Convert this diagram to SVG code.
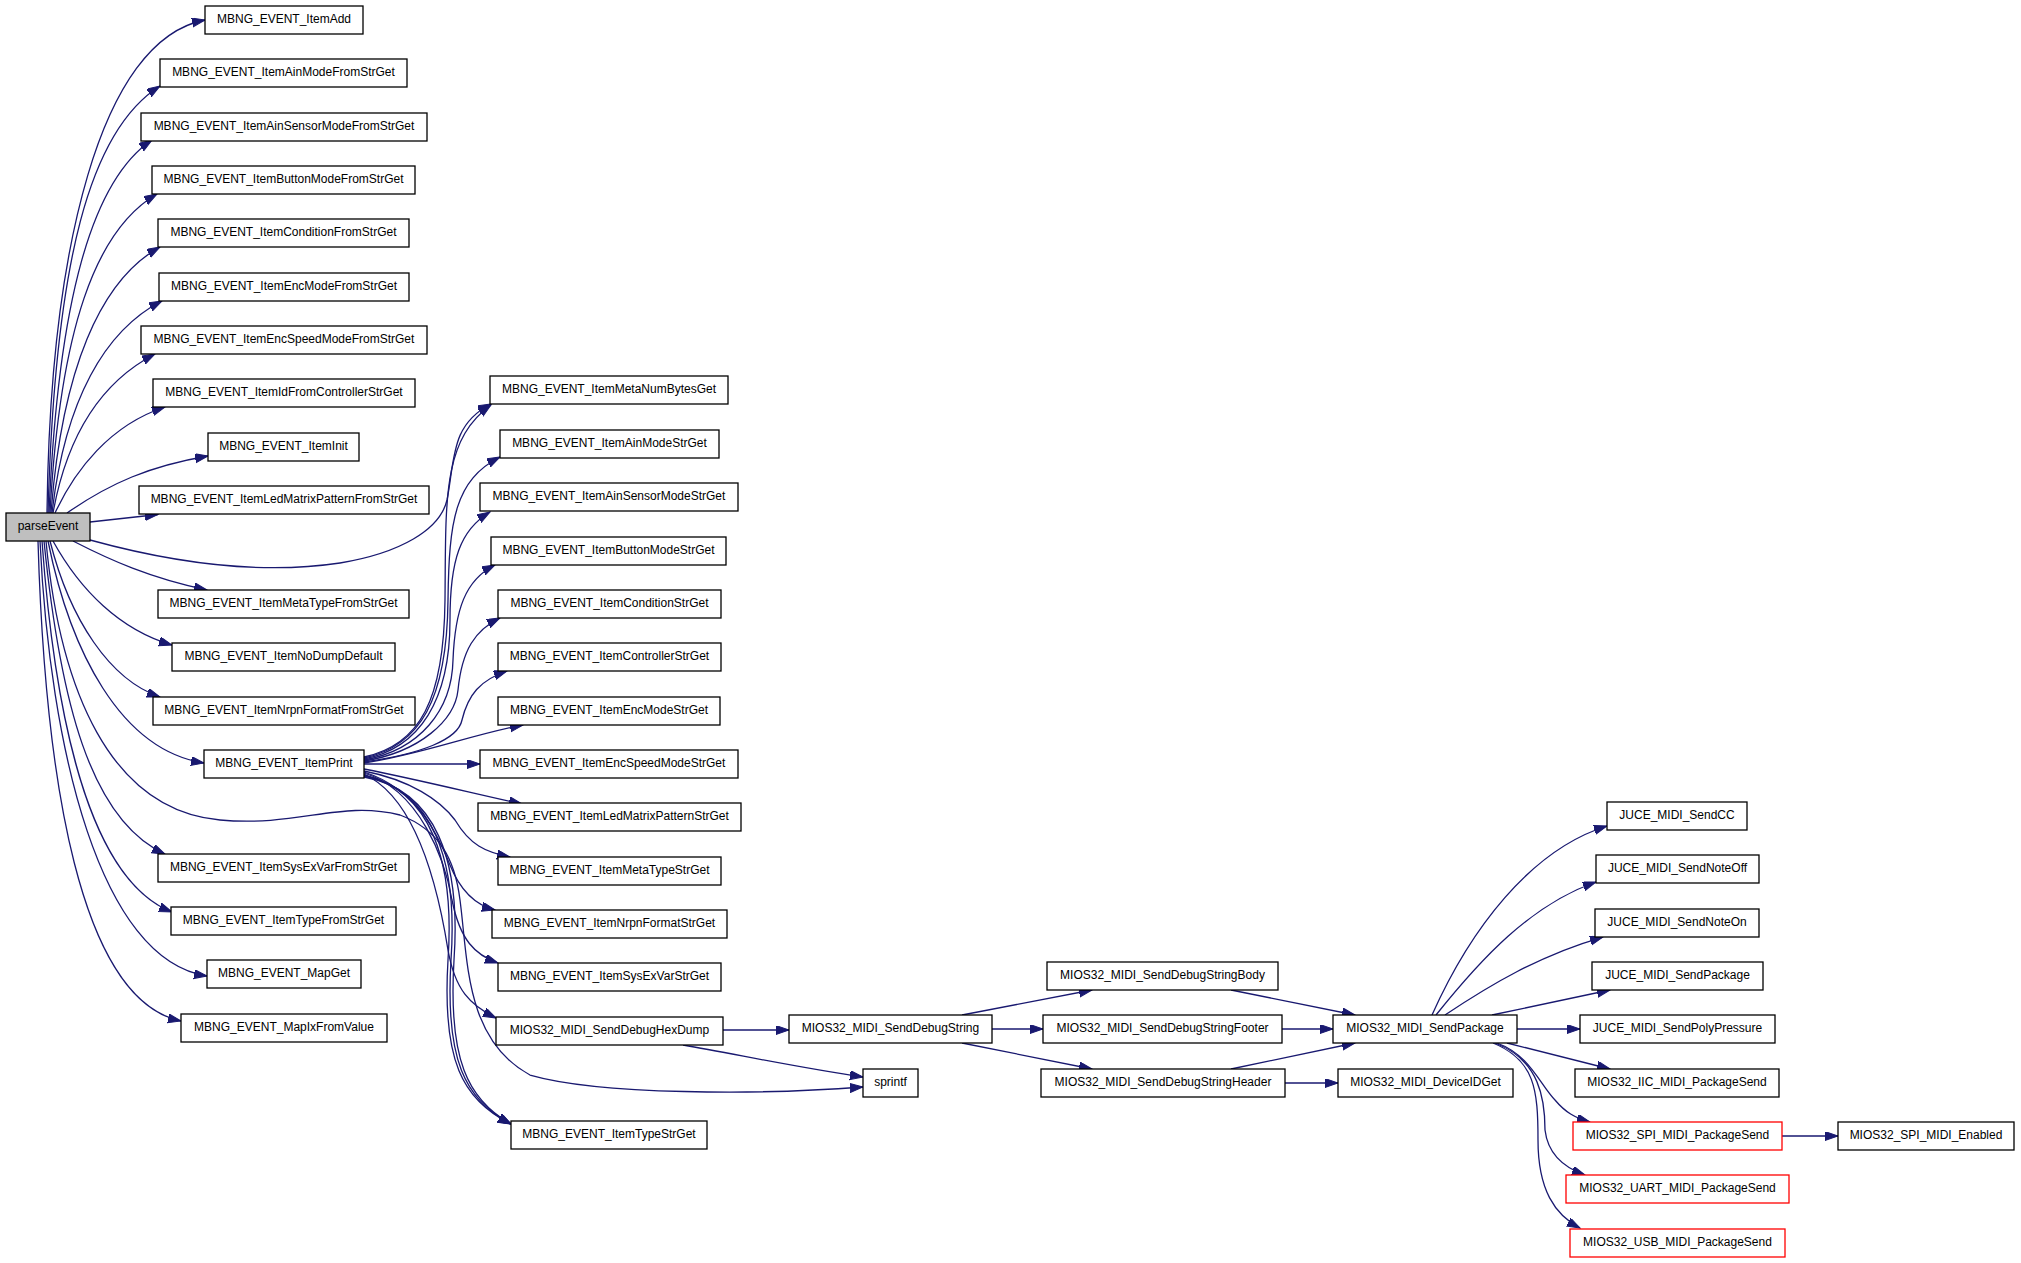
<svg xmlns="http://www.w3.org/2000/svg" width="2021" height="1263" viewBox="0 0 2021 1263">
<style>
.n rect{fill:#fff;stroke:#000;stroke-width:1.3}
.n.r rect{stroke:#f00}
.n.root rect{fill:#bfbfbf}
.n text{font-family:"Liberation Sans",Arial,sans-serif;font-size:12px;fill:#000;text-anchor:middle}
#edges path{fill:none;stroke:#191970;stroke-width:1.3;marker-end:url(#ah)}
</style>
<defs>
<marker id="ah" markerUnits="userSpaceOnUse" markerWidth="14" markerHeight="10" refX="13" refY="4.5" orient="auto">
<path d="M0,0 L13,4.5 L0,9 z" fill="#191970" stroke="#191970" stroke-width="1"/>
</marker>
</defs>
<rect width="2021" height="1263" fill="#fff"/>
<g id="edges">
<path d="M47,513 C50,250 100,40 205,20"/>
<path d="M48,513 C55,260 90,130 160,86"/>
<path d="M49,513 C58,300 92,180 152,140"/>
<path d="M50,513 C60,330 95,230 157,194"/>
<path d="M51,513 C62,370 100,280 160,247"/>
<path d="M52,513 C65,400 105,330 162,301"/>
<path d="M53,513 C68,430 105,380 155,354"/>
<path d="M55,513 C75,470 110,425 165,407"/>
<path d="M67,513 C110,483 150,466 208,456"/>
<path d="M90,522 L158,514.5"/>
<path d="M90,540 C170,562 260,575 340,563 C400,553 440,530 447,500 C455,460 450,425 491,404"/>
<path d="M73,541 C110,560 150,578 207,590"/>
<path d="M53,541 C80,590 120,630 172,645"/>
<path d="M50,541 C70,620 110,680 160,697"/>
<path d="M48,541 C70,650 120,750 204,763"/>
<path d="M46,541 C60,690 110,810 220,820 C300,827 340,800 400,815 C440,830 455,860 460,900 C468,960 465,1040 530,1075 C600,1095 760,1095 863,1087"/>
<path d="M44,541 C60,700 90,820 165,854"/>
<path d="M42,541 C55,720 90,880 172,912"/>
<path d="M40,541 C50,750 100,960 207,976"/>
<path d="M38,541 C45,780 80,1000 181,1021"/>
<path d="M364,757 C420,745 444,700 445,600 C446,500 442,440 491,405"/>
<path d="M364,758 C420,746 447,700 448,600 C449,520 455,480 500,457"/>
<path d="M364,759 C420,748 450,700 450,620 C450,560 460,530 490,512"/>
<path d="M364,760 C420,750 452,710 453,660 C455,610 465,580 495,565"/>
<path d="M364,761 C420,752 455,720 458,690 C462,650 475,630 500,618"/>
<path d="M364,762 C420,754 458,740 462,720 C468,695 480,680 507,671"/>
<path d="M364,763 C420,755 470,735 523,725"/>
<path d="M364,764 L480,764"/>
<path d="M364,769 C420,780 480,795 522,804"/>
<path d="M364,771 C410,780 440,800 455,820 C470,845 485,852 510,857"/>
<path d="M364,772 C420,790 440,840 450,865 C460,890 475,905 495,910"/>
<path d="M364,773 C420,790 445,860 452,900 C460,940 475,955 498,963"/>
<path d="M364,774 C420,800 440,900 448,950 C455,990 470,1005 496,1018"/>
<path d="M364,775 C430,790 455,860 448,960 C442,1060 462,1100 511,1124"/>
<path d="M364,776 C433,790 458,860 451,960 C445,1060 465,1100 511,1124"/>
<path d="M364,777 C436,790 461,860 454,960 C448,1060 468,1100 511,1124"/>
<path d="M683,1045 C740,1055 800,1068 863,1077"/>
<path d="M723,1030 L789,1030"/>
<path d="M962,1015 L1092,990"/>
<path d="M992,1029 L1043,1029"/>
<path d="M962,1043 L1092,1069"/>
<path d="M1231,990 L1355,1015"/>
<path d="M1282,1029 L1333,1029"/>
<path d="M1231,1069 L1355,1043"/>
<path d="M1285,1083 L1338,1083"/>
<path d="M1432,1015 C1470,930 1530,850 1607,826"/>
<path d="M1436,1015 C1480,960 1530,905 1596,882"/>
<path d="M1445,1015 C1490,985 1540,955 1603,937"/>
<path d="M1492,1015 L1610,990"/>
<path d="M1517,1029 L1580,1029"/>
<path d="M1507,1043 L1610,1069"/>
<path d="M1497,1043 C1530,1055 1540,1085 1555,1100 C1565,1112 1575,1118 1590,1122"/>
<path d="M1495,1043 C1540,1060 1545,1100 1545,1130 C1548,1155 1565,1168 1585,1175"/>
<path d="M1493,1043 C1535,1060 1538,1090 1538,1140 C1538,1190 1555,1215 1580,1228"/>
<path d="M1782,1136 L1838,1136"/>
</g>
<g id="parseEvent" class="n root"><rect x="6" y="513" width="84" height="28"/><text x="48" y="529.5">parseEvent</text></g>
<g id="ItemAdd" class="n"><rect x="205" y="6" width="158" height="28"/><text x="284" y="22.5">MBNG_EVENT_ItemAdd</text></g>
<g id="ItemAinModeFromStrGet" class="n"><rect x="160" y="59" width="247" height="28"/><text x="283.5" y="75.5">MBNG_EVENT_ItemAinModeFromStrGet</text></g>
<g id="ItemAinSensorModeFromStrGet" class="n"><rect x="141" y="113" width="286" height="28"/><text x="284" y="129.5">MBNG_EVENT_ItemAinSensorModeFromStrGet</text></g>
<g id="ItemButtonModeFromStrGet" class="n"><rect x="152" y="166" width="263" height="28"/><text x="283.5" y="182.5">MBNG_EVENT_ItemButtonModeFromStrGet</text></g>
<g id="ItemConditionFromStrGet" class="n"><rect x="158" y="219" width="251" height="28"/><text x="283.5" y="235.5">MBNG_EVENT_ItemConditionFromStrGet</text></g>
<g id="ItemEncModeFromStrGet" class="n"><rect x="159" y="273" width="250" height="28"/><text x="284" y="289.5">MBNG_EVENT_ItemEncModeFromStrGet</text></g>
<g id="ItemEncSpeedModeFromStrGet" class="n"><rect x="141" y="326" width="286" height="28"/><text x="284" y="342.5">MBNG_EVENT_ItemEncSpeedModeFromStrGet</text></g>
<g id="ItemIdFromControllerStrGet" class="n"><rect x="153" y="379" width="262" height="28"/><text x="284" y="395.5">MBNG_EVENT_ItemIdFromControllerStrGet</text></g>
<g id="ItemInit" class="n"><rect x="208" y="433" width="151" height="28"/><text x="283.5" y="449.5">MBNG_EVENT_ItemInit</text></g>
<g id="ItemLedMatrixPatternFromStrGet" class="n"><rect x="139" y="486" width="290" height="28"/><text x="284" y="502.5">MBNG_EVENT_ItemLedMatrixPatternFromStrGet</text></g>
<g id="ItemMetaTypeFromStrGet" class="n"><rect x="158" y="590" width="251" height="28"/><text x="283.5" y="606.5">MBNG_EVENT_ItemMetaTypeFromStrGet</text></g>
<g id="ItemNoDumpDefault" class="n"><rect x="172" y="643" width="223" height="28"/><text x="283.5" y="659.5">MBNG_EVENT_ItemNoDumpDefault</text></g>
<g id="ItemNrpnFormatFromStrGet" class="n"><rect x="153" y="697" width="262" height="28"/><text x="284" y="713.5">MBNG_EVENT_ItemNrpnFormatFromStrGet</text></g>
<g id="ItemPrint" class="n"><rect x="204" y="750" width="160" height="28"/><text x="284" y="766.5">MBNG_EVENT_ItemPrint</text></g>
<g id="ItemSysExVarFromStrGet" class="n"><rect x="158" y="854" width="251" height="28"/><text x="283.5" y="870.5">MBNG_EVENT_ItemSysExVarFromStrGet</text></g>
<g id="ItemTypeFromStrGet" class="n"><rect x="171" y="907" width="225" height="28"/><text x="283.5" y="923.5">MBNG_EVENT_ItemTypeFromStrGet</text></g>
<g id="MapGet" class="n"><rect x="207" y="960" width="154" height="28"/><text x="284" y="976.5">MBNG_EVENT_MapGet</text></g>
<g id="MapIxFromValue" class="n"><rect x="181" y="1014" width="206" height="28"/><text x="284" y="1030.5">MBNG_EVENT_MapIxFromValue</text></g>
<g id="ItemMetaNumBytesGet" class="n"><rect x="490" y="376" width="238" height="28"/><text x="609" y="392.5">MBNG_EVENT_ItemMetaNumBytesGet</text></g>
<g id="ItemAinModeStrGet" class="n"><rect x="500" y="430" width="219" height="28"/><text x="609.5" y="446.5">MBNG_EVENT_ItemAinModeStrGet</text></g>
<g id="ItemAinSensorModeStrGet" class="n"><rect x="480" y="483" width="258" height="28"/><text x="609" y="499.5">MBNG_EVENT_ItemAinSensorModeStrGet</text></g>
<g id="ItemButtonModeStrGet" class="n"><rect x="491" y="537" width="235" height="28"/><text x="608.5" y="553.5">MBNG_EVENT_ItemButtonModeStrGet</text></g>
<g id="ItemConditionStrGet" class="n"><rect x="498" y="590" width="223" height="28"/><text x="609.5" y="606.5">MBNG_EVENT_ItemConditionStrGet</text></g>
<g id="ItemControllerStrGet" class="n"><rect x="498" y="643" width="223" height="28"/><text x="609.5" y="659.5">MBNG_EVENT_ItemControllerStrGet</text></g>
<g id="ItemEncModeStrGet" class="n"><rect x="498" y="697" width="222" height="28"/><text x="609" y="713.5">MBNG_EVENT_ItemEncModeStrGet</text></g>
<g id="ItemEncSpeedModeStrGet" class="n"><rect x="480" y="750" width="258" height="28"/><text x="609" y="766.5">MBNG_EVENT_ItemEncSpeedModeStrGet</text></g>
<g id="ItemLedMatrixPatternStrGet" class="n"><rect x="478" y="803" width="263" height="28"/><text x="609.5" y="819.5">MBNG_EVENT_ItemLedMatrixPatternStrGet</text></g>
<g id="ItemMetaTypeStrGet" class="n"><rect x="498" y="857" width="223" height="28"/><text x="609.5" y="873.5">MBNG_EVENT_ItemMetaTypeStrGet</text></g>
<g id="ItemNrpnFormatStrGet" class="n"><rect x="492" y="910" width="235" height="28"/><text x="609.5" y="926.5">MBNG_EVENT_ItemNrpnFormatStrGet</text></g>
<g id="ItemSysExVarStrGet" class="n"><rect x="498" y="963" width="223" height="28"/><text x="609.5" y="979.5">MBNG_EVENT_ItemSysExVarStrGet</text></g>
<g id="SendDebugHexDump" class="n"><rect x="496" y="1017" width="227" height="28"/><text x="609.5" y="1033.5">MIOS32_MIDI_SendDebugHexDump</text></g>
<g id="ItemTypeStrGet" class="n"><rect x="511" y="1121" width="196" height="28"/><text x="609" y="1137.5">MBNG_EVENT_ItemTypeStrGet</text></g>
<g id="sprintf" class="n"><rect x="863" y="1069" width="55" height="28"/><text x="890.5" y="1085.5">sprintf</text></g>
<g id="SendDebugString" class="n"><rect x="789" y="1015" width="203" height="28"/><text x="890.5" y="1031.5">MIOS32_MIDI_SendDebugString</text></g>
<g id="SendDebugStringBody" class="n"><rect x="1047" y="962" width="231" height="28"/><text x="1162.5" y="978.5">MIOS32_MIDI_SendDebugStringBody</text></g>
<g id="SendDebugStringFooter" class="n"><rect x="1043" y="1015" width="239" height="28"/><text x="1162.5" y="1031.5">MIOS32_MIDI_SendDebugStringFooter</text></g>
<g id="SendDebugStringHeader" class="n"><rect x="1041" y="1069" width="244" height="28"/><text x="1163" y="1085.5">MIOS32_MIDI_SendDebugStringHeader</text></g>
<g id="MIDI_SendPackage" class="n"><rect x="1333" y="1015" width="184" height="28"/><text x="1425" y="1031.5">MIOS32_MIDI_SendPackage</text></g>
<g id="DeviceIDGet" class="n"><rect x="1338" y="1069" width="175" height="28"/><text x="1425.5" y="1085.5">MIOS32_MIDI_DeviceIDGet</text></g>
<g id="JUCE_SendCC" class="n"><rect x="1607" y="802" width="140" height="28"/><text x="1677" y="818.5">JUCE_MIDI_SendCC</text></g>
<g id="JUCE_SendNoteOff" class="n"><rect x="1596" y="855" width="163" height="28"/><text x="1677.5" y="871.5">JUCE_MIDI_SendNoteOff</text></g>
<g id="JUCE_SendNoteOn" class="n"><rect x="1595" y="909" width="164" height="28"/><text x="1677" y="925.5">JUCE_MIDI_SendNoteOn</text></g>
<g id="JUCE_SendPackage" class="n"><rect x="1592" y="962" width="171" height="28"/><text x="1677.5" y="978.5">JUCE_MIDI_SendPackage</text></g>
<g id="JUCE_SendPolyPressure" class="n"><rect x="1580" y="1015" width="195" height="28"/><text x="1677.5" y="1031.5">JUCE_MIDI_SendPolyPressure</text></g>
<g id="IIC_PackageSend" class="n"><rect x="1575" y="1069" width="204" height="28"/><text x="1677" y="1085.5">MIOS32_IIC_MIDI_PackageSend</text></g>
<g id="SPI_PackageSend" class="n r"><rect x="1573" y="1122" width="209" height="28"/><text x="1677.5" y="1138.5">MIOS32_SPI_MIDI_PackageSend</text></g>
<g id="UART_PackageSend" class="n r"><rect x="1566" y="1175" width="223" height="28"/><text x="1677.5" y="1191.5">MIOS32_UART_MIDI_PackageSend</text></g>
<g id="USB_PackageSend" class="n r"><rect x="1570" y="1229" width="215" height="28"/><text x="1677.5" y="1245.5">MIOS32_USB_MIDI_PackageSend</text></g>
<g id="SPI_Enabled" class="n"><rect x="1838" y="1122" width="176" height="28"/><text x="1926" y="1138.5">MIOS32_SPI_MIDI_Enabled</text></g>
</svg>
